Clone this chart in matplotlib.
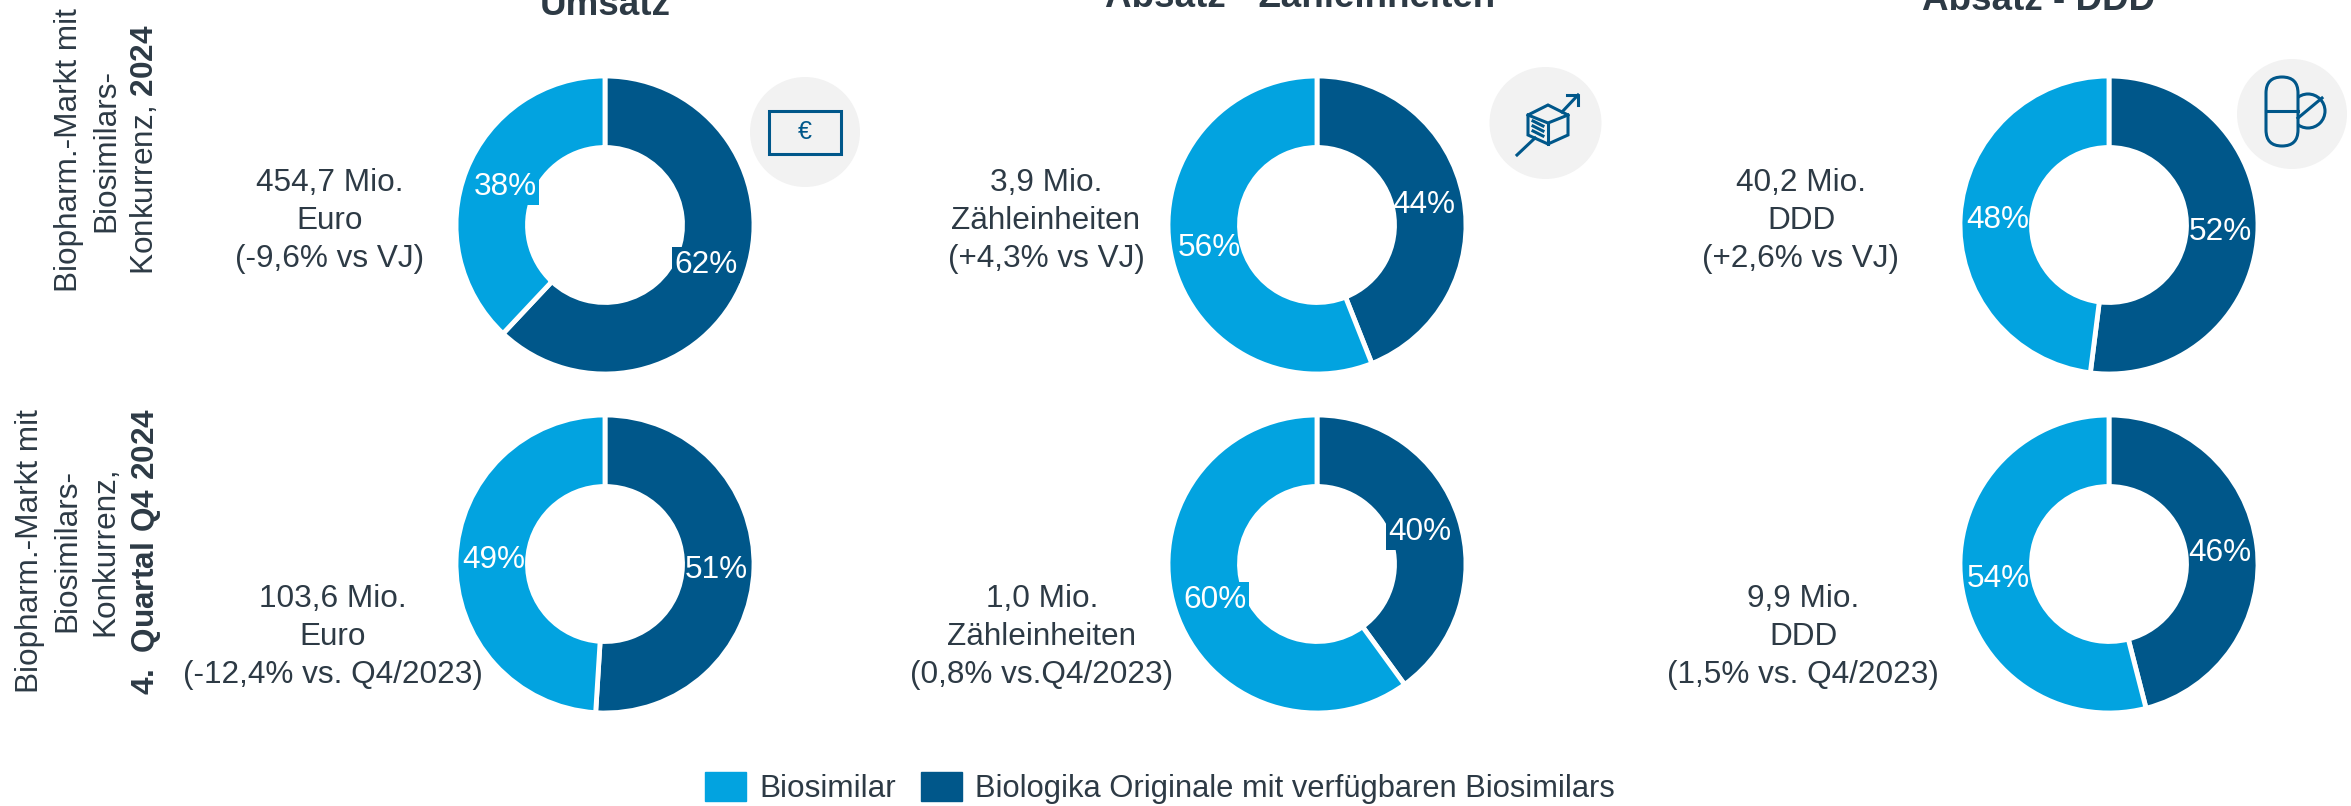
import matplotlib
matplotlib.use("Agg")
import matplotlib.pyplot as plt
from matplotlib.patches import Circle, Rectangle, Polygon, FancyBboxPatch, Patch

W, H = 2351, 806
TEXT = '#2d3a45'
HELL = '#02a3e0'
DUNKEL = '#00578a'
ICON_BG = '#f2f2f2'

plt.rcParams['font.family'] = ['Liberation Sans', 'DejaVu Sans']
plt.rcParams['mathtext.fontset'] = 'custom'
plt.rcParams['mathtext.rm'] = 'Liberation Sans'
plt.rcParams['mathtext.bf'] = 'Liberation Sans:bold'

# Anteile in Prozent, Reihenfolge der Spalten: Umsatz, Zähleinheiten, DDD
original_2024 = [62, 44, 52]
biosimilar_2024 = [38, 56, 48]
original_q4 = [51, 40, 46]
biosimilar_q4 = [49, 60, 54]

titel = ['Umsatz', 'Absatz - Zähleinheiten', 'Absatz - DDD']
text_2024 = ['454,7 Mio.\nEuro\n(-9,6% vs VJ)',
             '3,9 Mio.\nZähleinheiten\n(+4,3% vs VJ)',
             '40,2 Mio.\nDDD\n(+2,6% vs VJ)']
text_q4 = ['103,6 Mio.\nEuro\n(-12,4% vs. Q4/2023)',
           '1,0 Mio.\nZähleinheiten\n(0,8% vs.Q4/2023)',
           '9,9 Mio.\nDDD\n(1,5% vs. Q4/2023)']
zeile_2024 = 'Biopharm.-Markt mit\nBiosimilars-\nKonkurrenz, $\\mathbf{2024}$'
zeile_q4 = 'Biopharm.-Markt mit\nBiosimilars-\nKonkurrenz,\n$\\mathbf{4.\\ Quartal\\ Q4\\ 2024}$'
legende = ['Biosimilar', 'Biologika Originale mit verfügbaren Biosimilars']

FS = 22.7
LS = 1.34
spalten_x = [605, 1317, 2109]
radius = 149

fig = plt.figure(figsize=(W / 100, H / 100), dpi=100)


def donut(cx, cy, werte):
    ax = fig.add_axes([(cx - radius) / W, 1 - (cy + radius) / H, 2 * radius / W, 2 * radius / H])
    ax.pie(werte, colors=[DUNKEL, HELL], startangle=90, counterclock=False, radius=1,
           wedgeprops=dict(width=0.48, edgecolor='white', linewidth=3.5))
    ax.set_xlim(-1, 1)
    ax.set_ylim(-1, 1)


for i, cx in enumerate(spalten_x):
    donut(cx, 225, [original_2024[i], biosimilar_2024[i]])
    donut(cx, 564, [original_q4[i], biosimilar_q4[i]])

top = fig.add_axes([0, 0, 1, 1], facecolor='none')
top.set_xlim(0, W)
top.set_ylim(H, 0)
top.axis('off')


def prozent(wert, farbe, x, y, box=False):
    kw = dict(bbox=dict(facecolor=farbe, edgecolor='none', pad=2)) if box else {}
    top.text(x, y, f'{wert}%', color='white', fontsize=FS, ha='center', va='center', **kw)


# Positionen der Prozentlabels, nur vier davon haben im Original einen Kasten
labels_2024 = [[(706, 265, True), (505, 187, True)], [(1424, 205), (1209, 248)], [(2220, 232), (1998, 220)]]
labels_q4 = [[(716, 570), (494, 560)], [(1420, 532, True), (1215, 600, True)], [(2220, 553), (1998, 579)]]
for i in range(3):
    prozent(original_2024[i], DUNKEL, *labels_2024[i][0])
    prozent(biosimilar_2024[i], HELL, *labels_2024[i][1])
    prozent(original_q4[i], DUNKEL, *labels_q4[i][0])
    prozent(biosimilar_q4[i], HELL, *labels_q4[i][1])

# Titel (oben angeschnitten)
for t, x, y in zip(titel, [605, 1300, 2038], [15, 7, 10]):
    top.text(x, y, t, color=TEXT, fontsize=26.5, fontweight='bold', ha='center', va='baseline')

for t, x in zip(text_2024, [330, 1046, 1801]):
    top.text(x, 221, t, color=TEXT, fontsize=FS, ha='center', va='center', linespacing=LS)
for t, x in zip(text_q4, [333, 1042, 1803]):
    top.text(x, 637, t, color=TEXT, fontsize=FS, ha='center', va='center', linespacing=LS)

top.text(107, 150, zeile_2024, color=TEXT, fontsize=FS, rotation=90, ha='center', va='center',
         multialignment='center', linespacing=LS)
top.text(89, 551, zeile_q4, color=TEXT, fontsize=FS, rotation=90, ha='center', va='center',
         multialignment='center', linespacing=LS)

# Icons
LW = 2.2
top.add_patch(Circle((805, 132), 55, facecolor=ICON_BG, edgecolor='none'))
top.add_patch(Rectangle((769, 111), 72, 43, facecolor='none', edgecolor=DUNKEL, linewidth=LW))
top.text(805, 132, '€', color=DUNKEL, fontsize=18, ha='center', va='center')

top.add_patch(Circle((1545.5, 123), 56, facecolor=ICON_BG, edgecolor='none'))
top.plot([1517, 1535], [155, 138], color=DUNKEL, lw=LW)
top.plot([1562, 1578], [112, 95], color=DUNKEL, lw=LW)
top.plot([1567, 1578, 1578], [95, 95, 105], color=DUNKEL, lw=LW)
top.add_patch(Polygon([(1548, 105), (1568, 115), (1568, 135), (1548, 144), (1528, 135), (1528, 115)],
                      closed=True, facecolor=ICON_BG, edgecolor=DUNKEL, lw=LW))
top.plot([1528, 1548, 1568], [115, 123, 115], color=DUNKEL, lw=LW)
top.plot([1548, 1548], [123, 144], color=DUNKEL, lw=LW)
for y0 in [121, 126, 131]:
    top.plot([1533, 1543], [y0, y0 + 5], color=DUNKEL, lw=LW)

top.add_patch(Circle((2292, 114), 55, facecolor=ICON_BG, edgecolor='none'))
top.add_patch(Circle((2308, 111), 17, facecolor='none', edgecolor=DUNKEL, lw=LW))
top.plot([2298, 2322], [118, 98], color=DUNKEL, lw=LW)
top.add_patch(FancyBboxPatch((2266, 77), 32, 69, boxstyle='round,pad=0,rounding_size=16',
                             facecolor=ICON_BG, edgecolor=DUNKEL, lw=LW))
top.plot([2266, 2298], [111, 111], color=DUNKEL, lw=LW)

leg = fig.legend(handles=[Patch(color=HELL), Patch(color=DUNKEL)], labels=legende, ncol=2, frameon=False,
                 fontsize=FS, labelcolor=TEXT, loc='lower left', bbox_to_anchor=(705 / W, 2 / H),
                 handlelength=1.3, handleheight=1.05, handletextpad=0.42, columnspacing=0.8,
                 borderpad=0, borderaxespad=0)
leg.get_texts()[1].set_fontsize(22.2)

fig.savefig('out.png', dpi=100)
